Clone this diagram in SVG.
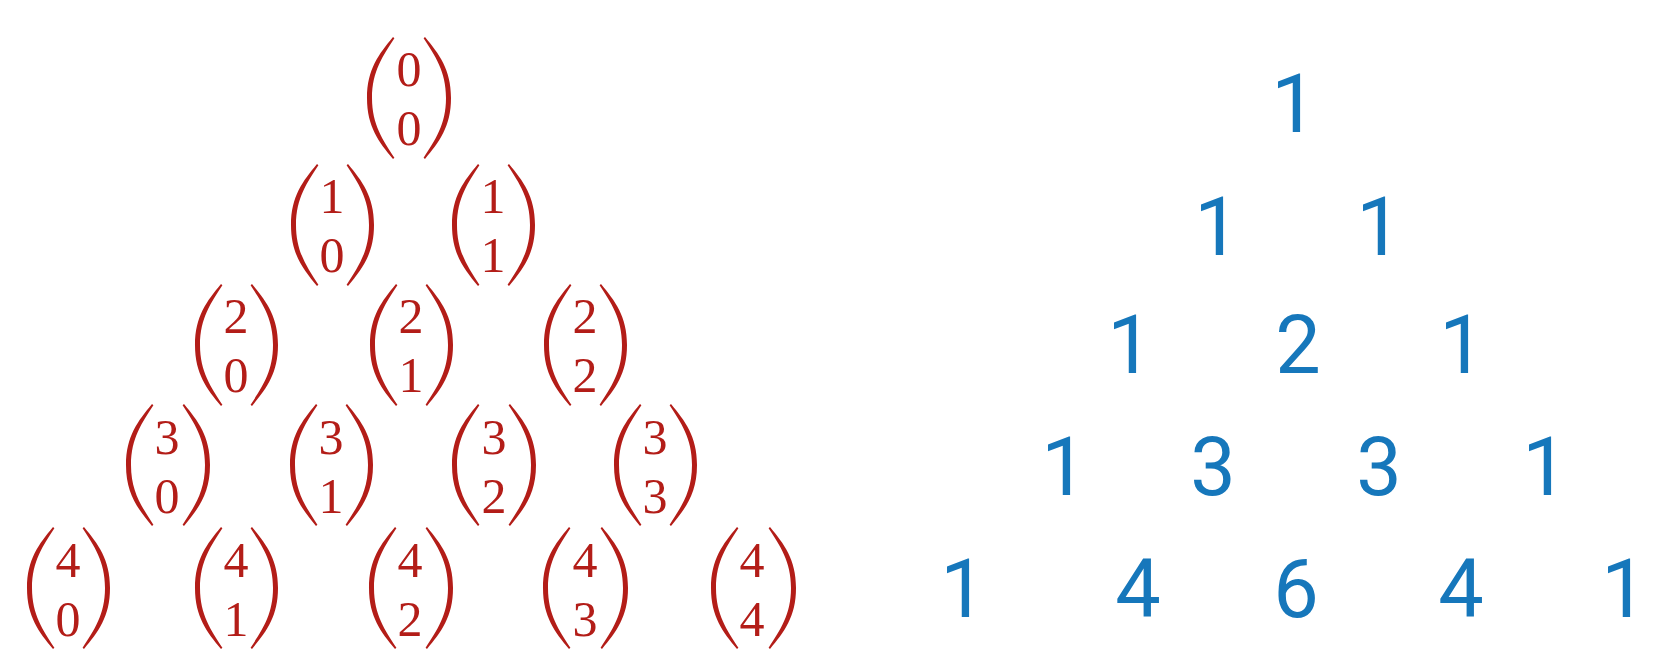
<svg xmlns="http://www.w3.org/2000/svg" xmlns:xlink="http://www.w3.org/1999/xlink" width="1664" height="666" viewBox="0 0 1664 666">
<style>
.b{font-family:"Liberation Serif","Times New Roman",serif;font-size:50px;fill:#b31d18;text-anchor:middle}
.p{fill:#b31d18}
.n{font-family:Roboto,"Liberation Sans",Arial,sans-serif;font-size:81px;fill:#1677bb;text-anchor:middle}
</style>
<defs>
<path id="lp" class="p" d="M0,0 C-14,17 -26,32 -26,61 C-26,90 -14,105 0,122 L1.4,120.8 C-10,103 -21,88 -21,61 C-21,34 -10,19 1.4,1.2 Z"/>
<path id="rp" class="p" d="M0,0 C14,17 26,32 26,61 C26,90 14,105 0,122 L-1.4,120.8 C10,103 21,88 21,61 C21,34 10,19 -1.4,1.2 Z"/>
</defs>
<rect width="1664" height="666" fill="#ffffff"/>
<g id="binomials">
<g id="b00"><use xlink:href="#lp" x="393" y="37"/><use xlink:href="#rp" x="425" y="37"/><text class="b" x="409" y="86">0</text><text class="b" x="409" y="145">0</text></g>
<g id="b10"><use xlink:href="#lp" x="317" y="164"/><use xlink:href="#rp" x="348" y="164"/><text class="b" x="332" y="213">1</text><text class="b" x="332" y="272">0</text></g>
<g id="b11"><use xlink:href="#lp" x="478" y="164"/><use xlink:href="#rp" x="509" y="164"/><text class="b" x="493" y="213">1</text><text class="b" x="493" y="272">1</text></g>
<g id="b20"><use xlink:href="#lp" x="221" y="284"/><use xlink:href="#rp" x="252" y="284"/><text class="b" x="236" y="333">2</text><text class="b" x="236" y="392">0</text></g>
<g id="b21"><use xlink:href="#lp" x="396" y="284"/><use xlink:href="#rp" x="427" y="284"/><text class="b" x="411" y="333">2</text><text class="b" x="411" y="392">1</text></g>
<g id="b22"><use xlink:href="#lp" x="570" y="284"/><use xlink:href="#rp" x="601" y="284"/><text class="b" x="585" y="333">2</text><text class="b" x="585" y="392">2</text></g>
<g id="b30"><use xlink:href="#lp" x="152" y="404"/><use xlink:href="#rp" x="184" y="404"/><text class="b" x="167" y="454">3</text><text class="b" x="167" y="513">0</text></g>
<g id="b31"><use xlink:href="#lp" x="316" y="404"/><use xlink:href="#rp" x="347" y="404"/><text class="b" x="331" y="454">3</text><text class="b" x="331" y="513">1</text></g>
<g id="b32"><use xlink:href="#lp" x="478" y="404"/><use xlink:href="#rp" x="510" y="404"/><text class="b" x="494" y="454">3</text><text class="b" x="494" y="513">2</text></g>
<g id="b33"><use xlink:href="#lp" x="640" y="404"/><use xlink:href="#rp" x="671" y="404"/><text class="b" x="655" y="454">3</text><text class="b" x="655" y="513">3</text></g>
<g id="b40"><use xlink:href="#lp" x="53" y="527"/><use xlink:href="#rp" x="84" y="527"/><text class="b" x="68" y="577">4</text><text class="b" x="68" y="636">0</text></g>
<g id="b41"><use xlink:href="#lp" x="221" y="527"/><use xlink:href="#rp" x="252" y="527"/><text class="b" x="236" y="577">4</text><text class="b" x="236" y="636">1</text></g>
<g id="b42"><use xlink:href="#lp" x="395" y="527"/><use xlink:href="#rp" x="427" y="527"/><text class="b" x="410" y="577">4</text><text class="b" x="410" y="636">2</text></g>
<g id="b43"><use xlink:href="#lp" x="569" y="527"/><use xlink:href="#rp" x="602" y="527"/><text class="b" x="585" y="577">4</text><text class="b" x="585" y="636">3</text></g>
<g id="b44"><use xlink:href="#lp" x="737" y="527"/><use xlink:href="#rp" x="770" y="527"/><text class="b" x="752" y="577">4</text><text class="b" x="752" y="636">4</text></g>
</g>
<g id="values">
<g id="v00"><text class="n" x="1294" y="132">1</text></g>
<g id="v10"><text class="n" x="1217" y="255">1</text></g>
<g id="v11"><text class="n" x="1379" y="255">1</text></g>
<g id="v20"><text class="n" x="1130" y="373">1</text></g>
<g id="v21"><text class="n" x="1298" y="373">2</text></g>
<g id="v22"><text class="n" x="1462" y="373">1</text></g>
<g id="v30"><text class="n" x="1064" y="495">1</text></g>
<g id="v31"><text class="n" x="1213" y="495">3</text></g>
<g id="v32"><text class="n" x="1379" y="495">3</text></g>
<g id="v33"><text class="n" x="1545" y="495">1</text></g>
<g id="v40"><text class="n" x="963" y="617">1</text></g>
<g id="v41"><text class="n" x="1138" y="617">4</text></g>
<g id="v42"><text class="n" x="1296" y="617">6</text></g>
<g id="v43"><text class="n" x="1461" y="617">4</text></g>
<g id="v44"><text class="n" x="1624" y="617">1</text></g>
</g>
</svg>
